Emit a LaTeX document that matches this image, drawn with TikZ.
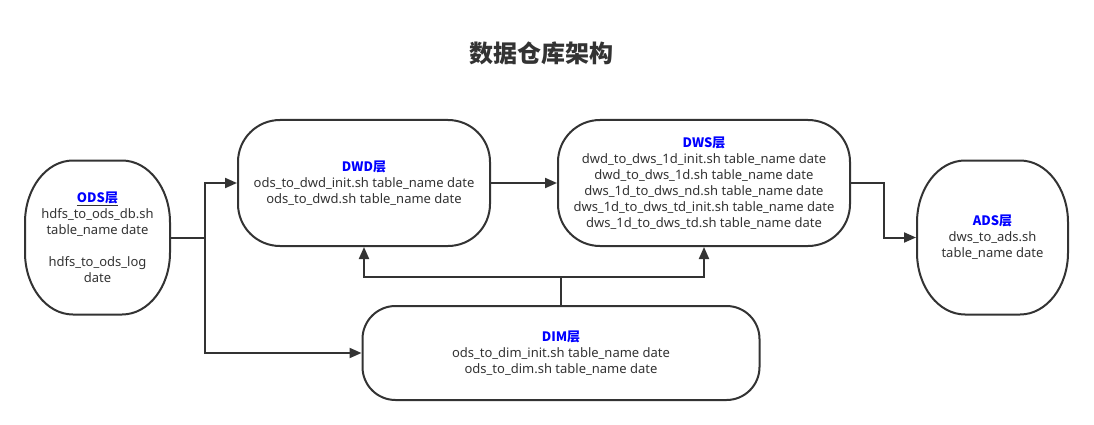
\documentclass[tikz,border=0pt]{standalone}
\usepackage{fontspec}
\setmainfont{Noto Sans}
\newfontfamily\cjk{Noto Sans CJK SC}
\usetikzlibrary{arrows.meta}
\definecolor{ln}{HTML}{333333}
\definecolor{hd}{HTML}{0000FF}
\newcommand\layerhead[1]{{\color{hd}\cjk\bfseries #1层}}
\newcommand\ovaloutline[3]{%
  \draw[outline] ([xshift=#2]#1.north west) -- ([xshift=-#2]#1.north east)
    arc[start angle=90,end angle=0,x radius=#2,y radius=#3]
    -- ([yshift=#3]#1.south east)
    arc[start angle=0,end angle=-90,x radius=#2,y radius=#3]
    -- ([xshift=#2]#1.south west)
    arc[start angle=270,end angle=180,x radius=#2,y radius=#3]
    -- ([yshift=-#3]#1.north west)
    arc[start angle=180,end angle=90,x radius=#2,y radius=#3] -- cycle;}
\begin{document}
\begin{tikzpicture}[x=1pt,y=-1pt,
  boxtext/.style={align=center, text=ln, font=\fontsize{13}{16}\selectfont, inner sep=0pt, outer sep=0pt},
  box/.style={boxtext, draw=ln, line width=2pt, fill=white},
  outline/.style={draw=ln, line width=2pt},
  wire/.style={draw=ln, line width=2pt},
  conn/.style={wire, shorten >=1pt, -{Triangle[length=12pt,width=10pt]}}]
\useasboundingbox (0,0) rectangle (1094,425);
\node[font=\cjk\bfseries\fontsize{24}{28}\selectfont, text=ln] (title) at (541,53) {数据仓库架构};
\node[boxtext, minimum width=145pt, minimum height=154pt] (ods) at (97.5,237.5)
  {\underline{\layerhead{ODS}}\\hdfs\_to\_ods\_db.sh\\table\_name date\\[16pt]hdfs\_to\_ods\_log\\date};
\ovaloutline{ods}{48pt}{62pt}
\node[box, minimum width=252pt, minimum height=126pt, rounded corners=42pt] (dwd) at (364,183)
  {\layerhead{DWD}\\ods\_to\_dwd\_init.sh table\_name date\\ods\_to\_dwd.sh table\_name date};
\node[box, minimum width=292pt, minimum height=126pt, rounded corners=42pt] (dws) at (704,183)
  {\layerhead{DWS}\\dwd\_to\_dws\_1d\_init.sh table\_name date\\dwd\_to\_dws\_1d.sh table\_name date\\dws\_1d\_to\_dws\_nd.sh table\_name date\\dws\_1d\_to\_dws\_td\_init.sh table\_name date\\dws\_1d\_to\_dws\_td.sh table\_name date};
\node[boxtext, minimum width=151pt, minimum height=154pt] (ads) at (992.5,237.5)
  {\layerhead{ADS}\\dws\_to\_ads.sh\\table\_name date};
\ovaloutline{ads}{48pt}{62pt}
\node[box, minimum width=397pt, minimum height=94pt, rounded corners=33pt] (dim) at (561,353)
  {\layerhead{DIM}\\ods\_to\_dim\_init.sh table\_name date\\ods\_to\_dim.sh table\_name date};
\coordinate (j1) at (205,237.5);
\coordinate (j2) at (884,183);
\coordinate (j3) at (561,277);
\draw[wire] (ods.east) -- (j1);
\draw[conn] (j1) |- (dwd.west);
\draw[conn] (j1) |- (dim.west);
\draw[conn] (dwd.east) -- (dws.west);
\draw[conn] (dws.east) -- (j2) |- (ads.west);
\draw[wire] (dim.north) -- (j3);
\draw[conn] (j3) -| (dwd.south);
\draw[conn] (j3) -| (dws.south);
\end{tikzpicture}
\end{document}
